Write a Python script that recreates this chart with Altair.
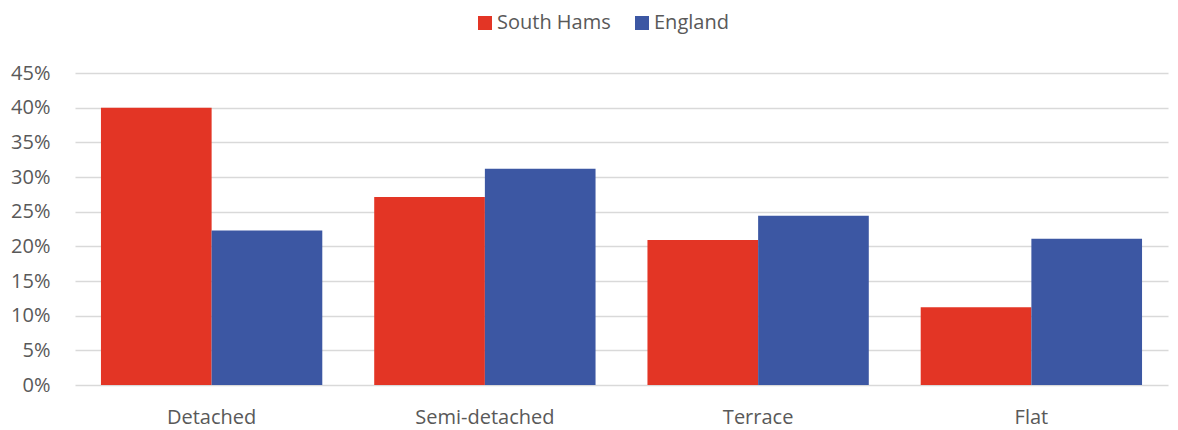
import altair as alt
import pandas as pd

categories = ["Detached", "Semi-detached", "Terrace", "Flat"]
series = ["South Hams", "England"]
south_hams = [0.400, 0.271, 0.209, 0.112]
england = [0.223, 0.312, 0.244, 0.211]
colors = ["#E33525", "#3C57A3"]

rows = []
for c, a, b in zip(categories, south_hams, england):
    rows.append({"category": c, "series": series[0], "value": a})
    rows.append({"category": c, "series": series[1], "value": b})
df = pd.DataFrame(rows)

FONT = "Open Sans"
FS = 20

chart = alt.Chart(df).mark_bar().encode(
    x=alt.X("category:N", sort=categories,
            scale=alt.Scale(paddingInner=0.19, paddingOuter=0.095),
            axis=alt.Axis(title=None, labelAngle=0, labelFontSize=FS, labelColor="#595959",
                          labelFont=FONT, domain=False, ticks=False, labelPadding=22)),
    xOffset=alt.XOffset("series:N", sort=series),
    y=alt.Y("value:Q", scale=alt.Scale(domain=[0, 0.45], nice=False),
            axis=alt.Axis(title=None, format=".0%", values=[i * 0.05 for i in range(10)],
                          labelFontSize=FS, labelColor="#595959", labelFont=FONT,
                          domain=False, ticks=False, labelPadding=25,
                          gridColor="#D9D9D9", gridWidth=1.5)),
    color=alt.Color("series:N", sort=series,
                    scale=alt.Scale(domain=series, range=colors),
                    legend=alt.Legend(title=None, orient="none", direction="horizontal",
                                      legendX=400, legendY=-60, symbolType="square",
                                      symbolSize=196, symbolStrokeWidth=0, labelFontSize=FS,
                                      labelColor="#595959", labelFont=FONT, columnPadding=21,
                                      labelOffset=2, padding=0)),
).properties(
    width=1093, height=312,
    autosize=alt.AutoSizeParams(type="none"),
    padding={"left": 67, "top": 65, "right": 2, "bottom": 45},
).configure_view(stroke=None)

chart.save("out.html", embed_options={"renderer": "svg", "actions": False})
